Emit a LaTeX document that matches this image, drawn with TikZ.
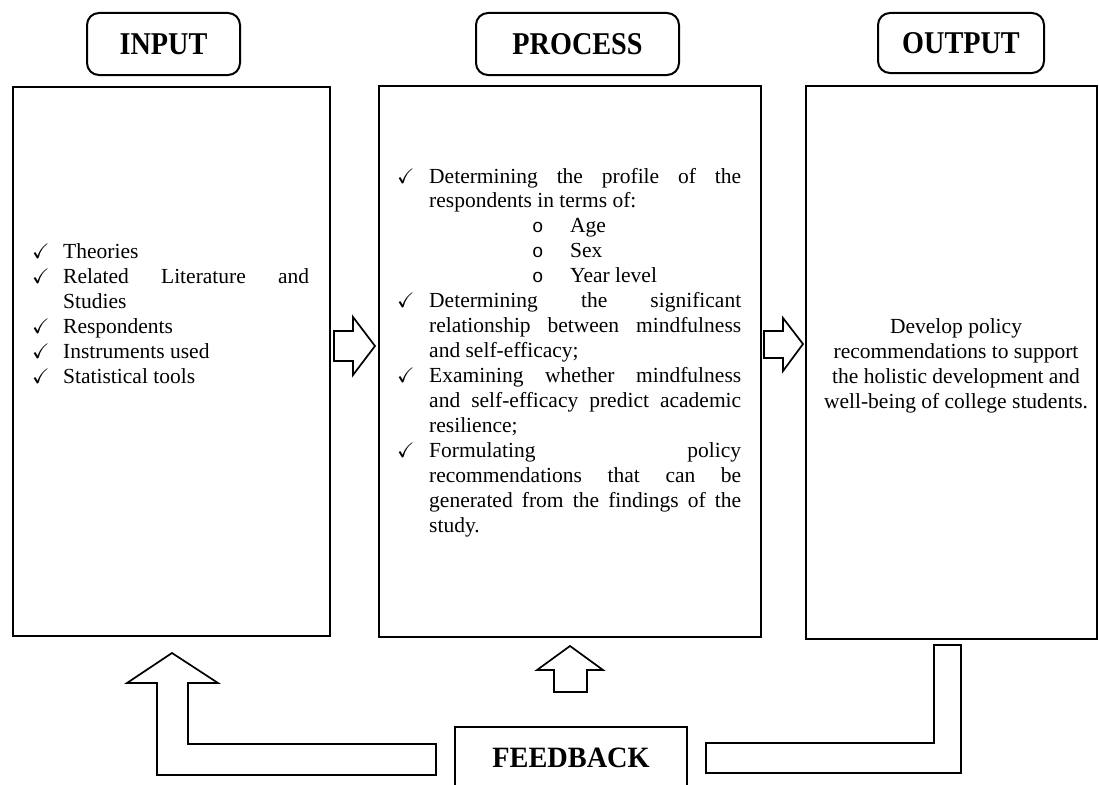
\documentclass[tikz,border=0pt]{standalone}
\usepackage{amssymb}
\usepackage{fontspec}
\setmainfont{Liberation Serif}
\newfontfamily\bulletfont{Liberation Mono}
\newcommand{\bodyfs}{\fontsize{21.5}{25}\selectfont}
\newcommand{\headfs}{\fontsize{31.7}{32}\selectfont\bfseries}
\newcommand{\fbfs}{\fontsize{29.5}{30}\selectfont\bfseries}
\newcommand{\chk}{$\checkmark$}
\newcommand{\hd}[1]{\scalebox{0.89}[1]{#1}}
\begin{document}
\begin{tikzpicture}[x=1pt,y=-1pt,
  headbox/.style={draw, line width=2pt, rounded corners=12pt, inner sep=0pt, font=\headfs},
  mainbox/.style={draw, line width=1.8pt, inner sep=0pt, anchor=north west},
  fbbox/.style={draw, line width=1.8pt, inner sep=0pt, font=\fbfs},
  blockarrow/.style={draw, line width=1.7pt, fill=white, line join=miter},
  txt/.style={inner sep=0pt, anchor=base west, font=\bodyfs},
  ctxt/.style={inner sep=0pt, anchor=base, font=\bodyfs},
  chkm/.style={inner sep=0pt, anchor=base west, font=\fontsize{21}{21}\selectfont},
  bul/.style={inner sep=0pt, anchor=base west, font=\fontsize{19}{25}\bulletfont}
]
\useasboundingbox (0,0) rectangle (1099,784);
\clip (0,0) rectangle (1099,784);

% header boxes
\node[headbox, minimum width=153pt, minimum height=62pt] (hin) at (163.5,44) {\hd{INPUT}};
\node[headbox, minimum width=203pt, minimum height=62pt] (hproc) at (577.5,44) {\hd{PROCESS}};
\node[headbox, minimum width=166pt, minimum height=60pt] (hout) at (961,43) {\hd{OUTPUT}};

% main boxes
\node[mainbox, minimum width=317pt, minimum height=549pt] (inbox) at (12,86) {};
\node[mainbox, minimum width=382pt, minimum height=551pt] (procbox) at (378,85) {};
\node[mainbox, minimum width=291pt, minimum height=553pt] (outbox) at (805,85) {};

% feedback box
\node[fbbox, minimum width=232pt, minimum height=61pt] (fb) at (571,757.5) {\scalebox{0.96}[1]{FEEDBACK}};

% input list
\node[chkm] (ic1) at (32,258) {\chk};
\node[txt] (i1) at (63,258) {Theories};
\node[chkm] (ic2) at (32,283) {\chk};
\node[txt] (i2) at (63,283) {\makebox[246pt][s]{Related Literature and}};
\node[txt] (i3) at (63,308) {Studies};
\node[chkm] (ic4) at (32,333) {\chk};
\node[txt] (i4) at (63,333) {Respondents};
\node[chkm] (ic5) at (32,358) {\chk};
\node[txt] (i5) at (63,358) {Instruments used};
\node[chkm] (ic6) at (32,383) {\chk};
\node[txt] (i6) at (63,383) {Statistical tools};

% process list
\node[chkm] (pc0) at (397,183.0) {\chk};
\node[txt] (p0) at (429,183.0) {\makebox[312pt][s]{Determining the profile of the}};
\node[txt] (p1) at (429,207.9) {respondents in terms of:};
\node[bul] (pb2) at (532,232.9) {o};
\node[txt] (p2) at (570,232.9) {Age};
\node[bul] (pb3) at (532,257.8) {o};
\node[txt] (p3) at (570,257.8) {Sex};
\node[bul] (pb4) at (532,282.7) {o};
\node[txt] (p4) at (570,282.7) {Year level};
\node[chkm] (pc5) at (397,307.7) {\chk};
\node[txt] (p5) at (429,307.7) {\makebox[312pt][s]{Determining the significant}};
\node[txt] (p6) at (429,332.6) {\makebox[312pt][s]{relationship between mindfulness}};
\node[txt] (p7) at (429,357.5) {and self-efficacy;};
\node[chkm] (pc8) at (397,382.4) {\chk};
\node[txt] (p8) at (429,382.4) {\makebox[312pt][s]{Examining whether mindfulness}};
\node[txt] (p9) at (429,407.4) {\makebox[312pt][s]{and self-efficacy predict academic}};
\node[txt] (p10) at (429,432.3) {resilience;};
\node[chkm] (pc11) at (397,457.2) {\chk};
\node[txt] (p11) at (429,457.2) {\makebox[312pt][s]{Formulating policy}};
\node[txt] (p12) at (429,482.2) {\makebox[312pt][s]{recommendations that can be}};
\node[txt] (p13) at (429,507.1) {\makebox[312pt][s]{generated from the findings of the}};
\node[txt] (p14) at (429,532.0) {study.};

% output text
\node[ctxt] (o1) at (956,333) {Develop policy};
\node[ctxt] (o2) at (956,358) {recommendations to support};
\node[ctxt] (o3) at (956,383) {the holistic development and};
\node[ctxt] (o4) at (956,408) {well-being of college students.};

% block arrows
\draw[blockarrow] (334,331)--(353,331)--(353,317)--(375,346)--(353,375)--(353,361)--(334,361)--cycle;
\draw[blockarrow] (764,331)--(783,331)--(783,318)--(803,344)--(783,371)--(783,358)--(764,358)--cycle;
\draw[blockarrow] (554,692)--(554,670)--(537,670)--(570,646)--(603,670)--(587,670)--(587,692)--cycle;
\draw[blockarrow] (436,744)--(188,744)--(188,683)--(218,683)--(172,653)--(127,683)--(157,683)--(157,775)--(436,775)--cycle;
\draw[blockarrow] (706,743)--(934,743)--(934,645)--(961,645)--(961,773)--(706,773)--cycle;
\end{tikzpicture}
\end{document}
